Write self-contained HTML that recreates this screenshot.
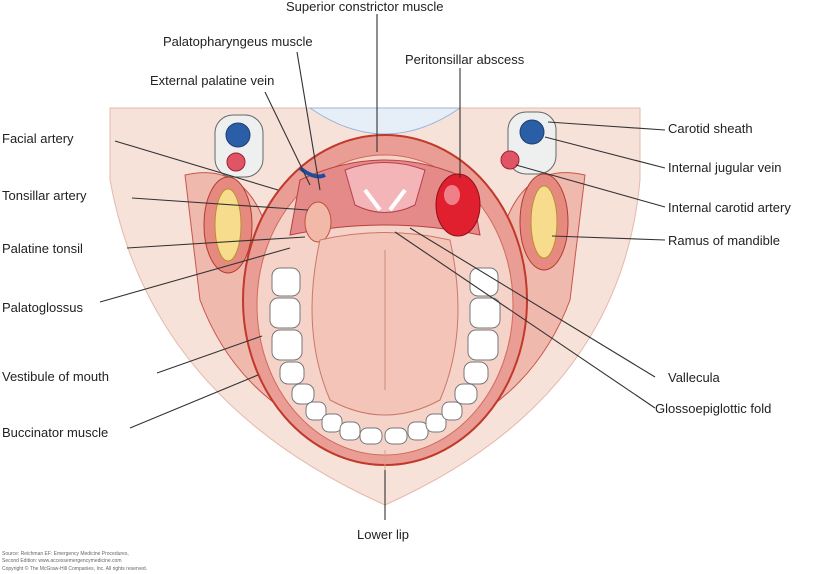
<!DOCTYPE html>
<html><head><meta charset="utf-8"><style>
body{margin:0;background:#fff;}
svg{display:block;font-family:"Liberation Sans",sans-serif;}
text{font-size:13px;fill:#222;}
.s{font-size:5px;fill:#666;}
</style></head><body>
<svg width="813" height="574" viewBox="0 0 813 574" xmlns="http://www.w3.org/2000/svg">
<rect width="813" height="574" fill="#fff"/>
<!-- face -->
<path d="M110,108 L640,108 L640,180 Q620,400 385,505 Q150,400 110,180 Z" fill="#f7e2da" stroke="#e6b8ac"/>
<path d="M310,108 Q385,160 460,108 Z" fill="#e6eef8" stroke="#9db4d6"/>
<!-- cheeks / buccinator -->
<path d="M185,175 Q250,160 270,240 Q265,360 300,420 Q230,380 200,300 Z" fill="#f0b9ae" stroke="#c8554a"/>
<path d="M585,175 Q520,160 500,240 Q505,360 470,420 Q540,380 570,300 Z" fill="#f0b9ae" stroke="#c8554a"/>
<!-- mandible ramus -->
<ellipse cx="228" cy="225" rx="24" ry="48" fill="#e68a80" stroke="#b23a30"/>
<ellipse cx="228" cy="225" rx="13" ry="36" fill="#f6dc8c" stroke="#b89030"/>
<ellipse cx="544" cy="222" rx="24" ry="48" fill="#e68a80" stroke="#b23a30"/>
<ellipse cx="544" cy="222" rx="13" ry="36" fill="#f6dc8c" stroke="#b89030"/>
<!-- carotid sheaths -->
<rect x="215" y="115" width="48" height="62" rx="18" fill="#eef0f0" stroke="#666"/>
<circle cx="238" cy="135" r="12" fill="#2a5fa8" stroke="#1d3f75"/>
<circle cx="236" cy="162" r="9" fill="#e05565" stroke="#a02030"/>
<rect x="508" y="112" width="48" height="62" rx="18" fill="#eef0f0" stroke="#666"/>
<circle cx="532" cy="132" r="12" fill="#2a5fa8" stroke="#1d3f75"/>
<circle cx="510" cy="160" r="9" fill="#e05565" stroke="#a02030"/>
<!-- mouth -->
<ellipse cx="385" cy="300" rx="142" ry="165" fill="#e99d94" stroke="#c0392b" stroke-width="2"/>
<ellipse cx="385" cy="305" rx="128" ry="150" fill="#f6d3c9" stroke="#d06a5e"/>
<!-- pharynx -->
<path d="M300,180 Q385,140 470,180 L480,235 Q385,215 290,235 Z" fill="#e48a88" stroke="#b84040"/>
<path d="M345,170 Q385,155 425,170 L415,205 Q385,220 355,205 Z" fill="#f3b5b8" stroke="#b84050"/>
<path d="M365,190 L380,210 M405,190 L390,210" stroke="#fff" stroke-width="4"/>
<!-- tonsils -->
<ellipse cx="318" cy="222" rx="13" ry="20" fill="#f2b8a8" stroke="#c05040"/>
<ellipse cx="458" cy="205" rx="22" ry="31" fill="#e0202e" stroke="#901018"/>
<ellipse cx="452" cy="195" rx="8" ry="10" fill="#f08088"/>
<path d="M300,168 Q315,180 325,175" stroke="#1d4fa0" stroke-width="4" fill="none"/>
<!-- teeth -->
<g fill="#fff" stroke="#777">
<rect x="272" y="268" width="28" height="28" rx="8"/>
<rect x="270" y="298" width="30" height="30" rx="8"/>
<rect x="272" y="330" width="30" height="30" rx="8"/>
<rect x="280" y="362" width="24" height="22" rx="8"/>
<rect x="292" y="384" width="22" height="20" rx="8"/>
<rect x="306" y="402" width="20" height="18" rx="7"/>
<rect x="322" y="414" width="20" height="18" rx="7"/>
<rect x="340" y="422" width="20" height="18" rx="7"/>
<rect x="360" y="428" width="22" height="16" rx="7"/>
<rect x="385" y="428" width="22" height="16" rx="7"/>
<rect x="408" y="422" width="20" height="18" rx="7"/>
<rect x="426" y="414" width="20" height="18" rx="7"/>
<rect x="442" y="402" width="20" height="18" rx="7"/>
<rect x="455" y="384" width="22" height="20" rx="8"/>
<rect x="464" y="362" width="24" height="22" rx="8"/>
<rect x="468" y="330" width="30" height="30" rx="8"/>
<rect x="470" y="298" width="30" height="30" rx="8"/>
<rect x="470" y="268" width="28" height="28" rx="8"/>
</g>
<!-- tongue -->
<path d="M320,240 Q385,225 450,240 Q470,330 440,400 Q385,430 330,400 Q300,330 320,240 Z" fill="#f4c4b8" stroke="#c87868"/>
<path d="M385,250 L385,390" stroke="#d8a090" stroke-width="1.5"/>
<!-- lower lip line -->
<path d="M385,450 L385,500" stroke="#d8a090"/>
<!-- leader lines -->
<g stroke="#333" stroke-width="1.1" fill="none">
<line x1="377" y1="14" x2="377" y2="152"/>
<line x1="297" y1="52" x2="320" y2="190"/>
<line x1="265" y1="92" x2="310" y2="185"/>
<line x1="460" y1="68" x2="460" y2="178"/>
<line x1="115" y1="141" x2="278" y2="190"/>
<line x1="132" y1="198" x2="308" y2="210"/>
<line x1="127" y1="248" x2="305" y2="237"/>
<line x1="100" y1="302" x2="290" y2="248"/>
<line x1="157" y1="373" x2="262" y2="336"/>
<line x1="130" y1="428" x2="258" y2="375"/>
<line x1="665" y1="130" x2="548" y2="122"/>
<line x1="665" y1="168" x2="545" y2="137"/>
<line x1="665" y1="207" x2="516" y2="165"/>
<line x1="665" y1="240" x2="552" y2="236"/>
<line x1="655" y1="377" x2="410" y2="228"/>
<line x1="655" y1="408" x2="395" y2="232"/>
<line x1="385" y1="470" x2="385" y2="520"/>
</g>
<text x="286" y="11">Superior constrictor muscle</text>
<text x="163" y="46">Palatopharyngeus muscle</text>
<text x="150" y="85">External palatine vein</text>
<text x="405" y="64">Peritonsillar abscess</text>
<text x="2" y="143">Facial artery</text>
<text x="2" y="200">Tonsillar artery</text>
<text x="2" y="253">Palatine tonsil</text>
<text x="2" y="312">Palatoglossus</text>
<text x="2" y="381">Vestibule of mouth</text>
<text x="2" y="437">Buccinator muscle</text>
<text x="668" y="133">Carotid sheath</text>
<text x="668" y="172">Internal jugular vein</text>
<text x="668" y="212">Internal carotid artery</text>
<text x="668" y="245">Ramus of mandible</text>
<text x="668" y="382">Vallecula</text>
<text x="655" y="413">Glossoepiglottic fold</text>
<text x="357" y="539">Lower lip</text>
<text class="s" x="2" y="555">Source: Reichman EF: Emergency Medicine Procedures,</text>
<text class="s" x="2" y="562">Second Edition: www.accessemergencymedicine.com</text>
<text class="s" x="2" y="570">Copyright © The McGraw-Hill Companies, Inc. All rights reserved.</text>
</svg>
</body></html>
